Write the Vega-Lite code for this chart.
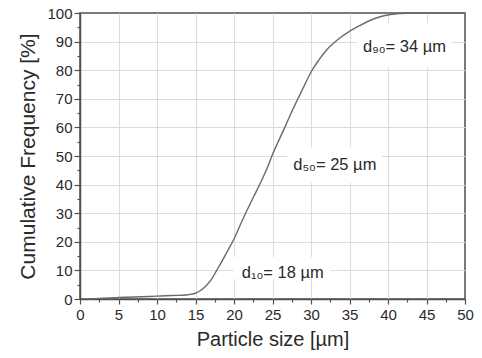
{
  "$schema": "https://vega.github.io/schema/vega-lite/v6.json",
  "width": 385,
  "height": 286,
  "autosize": {"type": "none"},
  "padding": {"left": 80, "top": 13, "right": 17, "bottom": 59},
  "background": "white",
  "config": {
    "font": "Liberation Sans",
    "view": {"stroke": "#505050", "strokeWidth": 1.5},
    "axis": {
      "domainColor": "#505050",
      "domainWidth": 1.5,
      "tickColor": "#505050",
      "tickWidth": 1.2,
      "labelColor": "#2a2a2a",
      "titleColor": "#2a2a2a",
      "labelFont": "Liberation Sans",
      "titleFont": "Liberation Sans",
      "labelFontSize": 15,
      "titleFontSize": 20,
      "titleFontWeight": "normal",
      "gridColor": "#dcdcdc",
      "gridWidth": 1
    }
  },
  "datasets": {
    "curve": [
      {"size": 1, "freq": 0},
      {"size": 3, "freq": 0.3},
      {"size": 5, "freq": 0.5},
      {"size": 8, "freq": 0.8},
      {"size": 10, "freq": 1.0},
      {"size": 12, "freq": 1.2},
      {"size": 14, "freq": 1.5},
      {"size": 15, "freq": 2.0},
      {"size": 15.5, "freq": 2.7},
      {"size": 16, "freq": 3.7},
      {"size": 16.5, "freq": 5.0},
      {"size": 17, "freq": 6.6},
      {"size": 17.75, "freq": 10},
      {"size": 18.5, "freq": 13.5},
      {"size": 19, "freq": 16},
      {"size": 20, "freq": 21},
      {"size": 21, "freq": 27},
      {"size": 21.6, "freq": 30.5},
      {"size": 22.5, "freq": 35.5},
      {"size": 23.6, "freq": 41.5},
      {"size": 24.5, "freq": 47},
      {"size": 25, "freq": 50.5},
      {"size": 26, "freq": 56.5},
      {"size": 26.6, "freq": 60},
      {"size": 27.5, "freq": 65.5},
      {"size": 28.3, "freq": 70},
      {"size": 29.2, "freq": 75},
      {"size": 30.1, "freq": 79.8},
      {"size": 31, "freq": 83.5},
      {"size": 32, "freq": 87},
      {"size": 33.3, "freq": 90.3},
      {"size": 34, "freq": 91.8},
      {"size": 35, "freq": 93.6},
      {"size": 36.4, "freq": 95.7},
      {"size": 37.5, "freq": 97.2},
      {"size": 39, "freq": 98.7},
      {"size": 40, "freq": 99.3},
      {"size": 41.6, "freq": 99.8},
      {"size": 43, "freq": 100},
      {"size": 50, "freq": 100}
    ],
    "boxes": [
      {"size": 36.0, "size2": 48.3, "freq": 81, "freq2": 96.5},
      {"size": 26.9, "size2": 39.2, "freq": 40.6, "freq2": 53.1},
      {"size": 19.9, "size2": 32.5, "freq": 7, "freq2": 14.7}
    ],
    "labels": [
      {"size": 36.75, "freq": 88.1, "text": "d₉₀= 34 µm"},
      {"size": 27.7, "freq": 46.9, "text": "d₅₀= 25 µm"},
      {"size": 21.0, "freq": 9.1, "text": "d₁₀= 18 µm"}
    ]
  },
  "encoding": {
    "x": {
      "field": "size", "type": "quantitative",
      "scale": {"domain": [0, 50], "nice": false, "zero": false},
      "axis": {
        "values": [0, 2.5, 5, 7.5, 10, 12.5, 15, 17.5, 20, 22.5, 25, 27.5, 30, 32.5, 35, 37.5, 40, 42.5, 45, 47.5, 50],
        "labelExpr": "datum.value % 5 === 0 ? datum.label : ''",
        "grid": true,
        "gridOpacity": {"condition": {"test": "datum.value % 5 === 0 && datum.value > 0 && datum.value < 50", "value": 1}, "value": 0},
        "tickSize": {"condition": {"test": "datum.value % 5 === 0", "value": 5}, "value": 3},
        "labelPadding": 3,
        "labelFlush": false,
        "title": "Particle size [µm]",
        "titlePadding": 7
      }
    },
    "y": {
      "field": "freq", "type": "quantitative",
      "scale": {"domain": [0, 100], "nice": false},
      "axis": {
        "values": [0, 5, 10, 15, 20, 25, 30, 35, 40, 45, 50, 55, 60, 65, 70, 75, 80, 85, 90, 95, 100],
        "labelExpr": "datum.value % 10 === 0 ? datum.label : ''",
        "grid": true,
        "gridOpacity": {"condition": {"test": "datum.value % 10 === 0 && datum.value > 0 && datum.value < 100", "value": 1}, "value": 0},
        "tickSize": {"condition": {"test": "datum.value % 10 === 0", "value": 6}, "value": 3},
        "labelPadding": 2,
        "labelFlush": false,
        "title": "Cumulative Frequency [%]",
        "titleFontSize": 21,
        "titlePadding": 8
      }
    }
  },
  "layer": [
    {
      "data": {"name": "boxes"},
      "mark": {"type": "rect", "color": "white"},
      "encoding": {
        "x2": {"field": "size2"},
        "y2": {"field": "freq2"}
      }
    },
    {
      "data": {"name": "curve"},
      "mark": {"type": "line", "color": "#6a6a6a", "strokeWidth": 1.4, "interpolate": "monotone"}
    },
    {
      "data": {"name": "labels"},
      "mark": {"type": "text", "align": "left", "baseline": "middle", "fontSize": 16.5, "color": "#2a2a2a", "font": "Liberation Sans"},
      "encoding": {
        "text": {"field": "text"}
      }
    }
  ]
}
